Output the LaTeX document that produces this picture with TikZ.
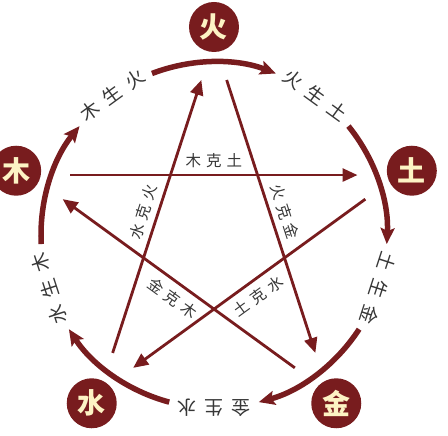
\documentclass[tikz,border=0pt]{standalone}
\usepackage{fontspec}
\newfontfamily\cjk{Noto Sans CJK SC}
\usetikzlibrary{arrows.meta}
\definecolor{wxred}{RGB}{120,28,30}
\definecolor{wxgold}{RGB}{253,243,196}
\definecolor{wxgray}{RGB}{55,55,55}
\tikzstyle{element} = [circle,fill=wxred,text=wxgold,minimum size=50pt,inner sep=0pt,font=\cjk\bfseries\fontsize{28}{28}\selectfont]
\tikzstyle{ke} = [draw=wxred,line width=2.8pt,shorten <=41pt,shorten >=41pt,-{Triangle[length=15pt,width=13pt]}]
\tikzstyle{sheng} = [draw=wxred,line width=5.5pt,-{Stealth[length=16pt,width=14pt,inset=3pt]}]
\tikzstyle{kelabel} = [text=wxgray,font=\cjk\fontsize{15.5}{15.5}\selectfont,sloped,inner sep=1pt]
\tikzstyle{shenglabel} = [text=wxgray,font=\cjk\fontsize{19}{19}\selectfont,inner sep=1pt]

\begin{document}
\begin{tikzpicture}[x=1pt,y=1pt]
	\useasboundingbox (-214,-201) rectangle (234,235);
	\node (huo) [element] at (90:208) {火};
	\node (tu) [element] at (18:208) {土};
	\node (jin) [element] at (-54:208) {金};
	\node (shui) [element] at (-126:208) {水};
	\node (mu) [element] at (162:208) {木};
	\coordinate (vhuo) at (90:194);
	\coordinate (vtu) at (18:194);
	\coordinate (vjin) at (-54:194);
	\coordinate (vshui) at (-126:194);
	\coordinate (vmu) at (162:194);
	\draw [ke] (vmu) -- node[kelabel,above=5pt] {木\kern5pt 克\kern5pt 土} (vtu);
	\draw [ke] (vtu) -- node[kelabel,below=6pt,pos=0.5] {土\kern5pt 克\kern5pt 水} (vshui);
	\draw [ke] (vshui) -- node[kelabel,above=5pt] {水\kern5pt 克\kern5pt 火} (vhuo);
	\draw [ke] (vhuo) -- node[kelabel,above=5pt] {火\kern5pt 克\kern5pt 金} (vjin);
	\draw [ke] (vjin) -- node[kelabel,below=6pt,pos=0.49] {金\kern5pt 克\kern5pt 木} (vmu);
	\draw [sheng] (111:173) arc[start angle=111,end angle=69,radius=173];
	\draw [sheng] (39:173) arc[start angle=39,end angle=-3,radius=173];
	\draw [sheng] (-33:173) arc[start angle=-33,end angle=-75,radius=173];
	\draw [sheng] (-105:173) arc[start angle=-105,end angle=-147,radius=173];
	\draw [sheng] (183:173) arc[start angle=183,end angle=141,radius=173];
	\node (mu-huo) [shenglabel,rotate=36] at (126:173) {木\kern8.5pt 生\kern8.5pt 火};
	\node (huo-tu) [shenglabel,rotate=-36] at (54:173) {火\kern8.5pt 生\kern8.5pt 土};
	\node (tu-jin) [shenglabel,rotate=-108] at (-18:173) {土\kern8.5pt 生\kern8.5pt 金};
	\node (jin-shui) [shenglabel,rotate=180] at (-90:173) {金\kern8.5pt 生\kern8.5pt 水};
	\node (shui-mu) [shenglabel,rotate=108] at (198:173) {水\kern8.5pt 生\kern8.5pt 木};
\end{tikzpicture}
\end{document}
